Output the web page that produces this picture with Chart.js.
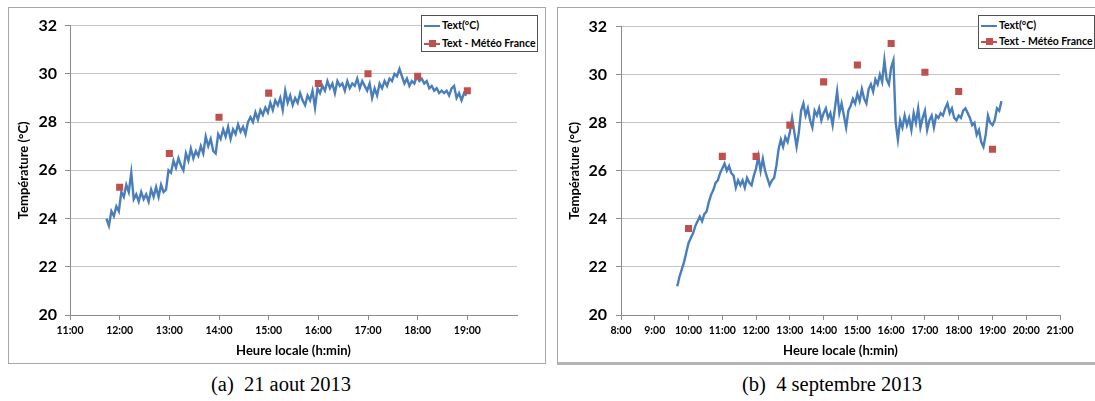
<!DOCTYPE html>
<html>
<head>
<meta charset="utf-8">
<script src="https://cdn.jsdelivr.net/npm/chart.js@4.4.0/dist/chart.umd.min.js"></script>
<style>
  html, body { margin:0; padding:0; background:#fff; }
  body { width:1095px; height:401px; position:relative; overflow:hidden; font-family: Lato, "Open Sans", sans-serif; }
  .frame { position:absolute; border:1px solid #a6a6a6; box-sizing:border-box; }
  canvas { position:absolute; }
  .legend { position:absolute; border:1px solid #505050; background:#fff; box-sizing:border-box; font: bold 10.5px Lato, sans-serif; color:#000; }
  .row { position:absolute; left:2px; height:12px; line-height:12px; white-space:nowrap; }
  .sw { position:absolute; left:0; top:6px; width:16px; height:2px; }
  .sq { position:absolute; left:5px; top:3px; width:7px; height:7px; background:#C0504D; }
  .lbl { position:absolute; left:18px; top:0; }
  .cap { position:absolute; top:373px; font: 20.5px "Liberation Serif", "DejaVu Serif", serif; color:#000; white-space:pre; transform:translateX(-50%); }
</style>
</head>
<body>
<div class="frame" style="left:8px; top:7px; width:538px; height:357px;"></div>
<div class="frame" style="left:557px; top:7px; width:545px; height:358px; border-bottom:3px solid #b4b4b4;"></div>
<canvas id="c1" width="537" height="354" style="left:9px; top:8px;"></canvas>
<canvas id="c2" width="537" height="354" style="left:558px; top:8px;"></canvas>

<div class="legend" style="left:421px; top:15px; width:117px; height:37px;">
  <div class="row" style="top:3px;"><div class="sw" style="background:#4a7ebb"></div><span class="lbl">Text(°C)</span></div>
  <div class="row" style="top:21px;"><div class="sw" style="background:#C0504D"></div><div class="sq"></div><span class="lbl">Text - Météo France</span></div>
</div>
<div class="legend" style="left:978px; top:15px; width:117px; height:34px;">
  <div class="row" style="top:3px;"><div class="sw" style="background:#4a7ebb"></div><span class="lbl">Text(°C)</span></div>
  <div class="row" style="top:19px;"><div class="sw" style="background:#C0504D"></div><div class="sq"></div><span class="lbl">Text - Météo France</span></div>
</div>

<div class="cap" style="left:281px;">(a)  21 aout 2013</div>
<div class="cap" style="left:832px;">(b)  4 septembre 2013</div>

<script>
// ---- Data: 21 aout 2013 ----
const aoutSampleStart = "11:44";   // first sample of the sensor record
const aoutSampleStepMin = 3;       // sampling interval (minutes)
const aoutText = [
  24.0,23.7,24.3,24.1,24.5,24.3,25.1,24.9,25.4,25.1,
  25.9,24.8,25.0,24.7,25.1,24.8,25.0,24.7,25.2,24.9,
  25.3,24.9,25.4,25.1,25.2,26.0,25.9,26.4,26.1,26.5,
  26.2,26.0,26.7,26.4,26.9,26.5,26.8,26.6,27.0,26.7,
  27.4,27.0,27.3,26.8,26.7,27.5,27.3,27.7,27.4,27.8,
  27.3,27.7,27.5,27.9,27.6,27.8,27.5,28.0,28.2,28.0,
  28.4,28.1,28.5,28.3,28.6,28.4,28.8,28.5,28.9,28.7,
  29.0,28.5,29.3,28.8,29.1,28.7,29.0,28.8,29.2,28.9,
  28.7,29.1,28.9,29.3,28.6,29.4,29.2,29.5,29.3,29.7,
  29.4,29.6,29.2,29.7,29.5,29.6,29.3,29.7,29.4,29.6,
  29.5,29.8,29.4,29.7,29.5,29.3,29.6,29.0,29.4,29.1,
  29.6,29.4,29.7,29.5,29.8,29.7,30.0,29.9,30.2,29.9,
  29.6,29.8,29.5,29.7,29.6,29.9,29.7,29.8,29.6,29.7,
  29.4,29.5,29.3,29.4,29.2,29.3,29.2,29.3,29.1,29.4,
  29.5,29.0,29.2,28.9,29.2,29.1
];
const aoutMeteoHours = ["12:00","13:00","14:00","15:00","16:00","17:00","18:00","19:00"];
const aoutMeteo = [25.3,26.7,28.2,29.2,29.6,30.0,29.9,29.3];
const aoutAxisHours = ["11:00","20:00"];
const aoutTickLabels = ["11:00","12:00","13:00","14:00","15:00","16:00","17:00","18:00","19:00"];

// ---- Data: 4 septembre 2013 ----
const septSampleStart = "9:40";
const septSampleStepMin = 4;
const septText = [
  21.2,21.6,21.9,22.2,22.6,23.0,23.2,23.4,23.7,23.9,
  24.1,23.9,24.2,24.3,24.7,25.0,25.2,25.5,25.6,25.9,
  26.1,26.3,26.0,26.2,25.9,25.8,25.3,25.6,25.4,25.6,
  25.3,25.7,25.5,25.4,25.8,26.1,26.6,26.0,26.5,26.0,
  25.7,25.4,25.6,25.7,26.2,26.9,27.3,27.0,27.4,27.2,
  27.6,28.2,27.6,27.0,27.6,28.5,28.8,28.3,28.6,28.1,
  27.8,28.5,28.3,28.6,28.1,28.4,28.6,28.2,28.4,27.9,
  28.6,29.3,28.4,28.8,28.3,27.8,28.5,28.7,29.0,28.8,
  29.2,28.9,29.4,29.0,28.8,29.4,29.6,29.3,29.8,29.6,
  30.0,29.7,30.6,29.8,29.6,30.3,30.6,28.0,27.3,28.1,
  27.8,28.3,27.9,28.2,27.7,28.4,28.0,28.6,27.8,28.2,
  28.5,27.7,28.1,28.3,27.8,28.3,28.2,28.4,28.3,28.6,
  28.8,28.4,28.6,28.2,28.1,28.3,28.2,28.5,28.6,28.4,
  28.2,27.9,28.0,27.5,27.7,27.2,27.0,27.5,28.3,28.0,
  27.9,28.1,28.6,28.5,28.9
];
const septMeteoHours = ["10:00","11:00","12:00","13:00","14:00","15:00","16:00","17:00","18:00","19:00"];
const septMeteo = [23.6,26.6,26.6,27.9,29.7,30.4,31.3,30.1,29.3,26.9];
const septAxisHours = ["8:00","21:00"];
const septTickLabels = ["8:00","9:00","10:00","11:00","12:00","13:00","14:00","15:00","16:00","17:00","18:00","19:00","20:00","21:00"];

const yMin = 20, yMax = 32, yStep = 2;
const xTitle = "Heure locale (h:min)";
const yTitle = "Température (°C)";
const seriesNames = ["Text(°C)", "Text - Météo France"];

// ---- helpers ----
const toMin = s => { const [h, m] = s.split(":").map(Number); return h * 60 + m; };
const FONT = "Lato, 'Open Sans', sans-serif";

function makeChart(id, start, step, values, mHours, mVals, axisHours, tickLabels, opts) {
  const s0 = toMin(start);
  const line = values.map((y, i) => ({ x: s0 + i * step, y }));
  const pts = mHours.map((h, i) => ({ x: toMin(h), y: mVals[i] }));
  const tickVals = tickLabels.map(toMin);
  return new Chart(document.getElementById(id), {
    type: "scatter",
    data: {
      datasets: [
        { label: seriesNames[0], data: line, showLine: true, borderColor: "#4a7ebb", backgroundColor: "#4a7ebb",
          borderWidth: 2.4, pointRadius: 0, tension: 0, order: 2 },
        { label: seriesNames[1], data: pts, showLine: false, pointStyle: "rect", pointRadius: 5,
          backgroundColor: "#C0504D", borderColor: "#C0504D", borderWidth: 0, order: 1 }
      ]
    },
    options: {
      responsive: false, animation: false, devicePixelRatio: 1,
      layout: { padding: { left: 0, top: 12, right: opts.padRight, bottom: 0 } },
      plugins: { legend: { display: false }, tooltip: { enabled: false } },
      scales: {
        x: {
          type: "linear",
          min: toMin(axisHours[0]), max: toMin(axisHours[1]),
          afterBuildTicks: sc => { sc.ticks = tickVals.map(v => ({ value: v })); },
          afterFit: sc => { sc.height = 47; },
          ticks: { autoSkip: false, maxRotation: 0, padding: 4, color: "#000",
                   font: { family: FONT, size: 10.5, weight: "bold" },
                   callback: (v, i) => tickLabels[i] },
          grid: { drawOnChartArea: false, drawTicks: true, tickLength: 5, tickColor: "#8c8c8c" },
          border: { display: true, color: "#8c8c8c", width: 1 },
          title: { display: true, text: xTitle, color: "#000", padding: { top: 0, bottom: 3 },
                   font: { family: FONT, size: 13, weight: "bold" } }
        },
        y: {
          min: yMin, max: yMax,
          afterFit: sc => { sc.width = opts.yWidth; },
          ticks: { stepSize: yStep, padding: opts.yPad, color: "#000",
                   font: { family: FONT, size: 16, weight: "bold" } },
          grid: { color: "#c4c4c4", lineWidth: 1, drawTicks: true, tickLength: 5, tickColor: "#8c8c8c" },
          border: { display: true, color: "#8c8c8c", width: 1 },
          title: { display: true, text: yTitle, color: "#000", padding: { top: opts.yTitlePad, bottom: 0 },
                   font: { family: FONT, size: 13, weight: "bold" } }
        }
      }
    }
  });
}

makeChart("c1", aoutSampleStart, aoutSampleStepMin, aoutText, aoutMeteoHours, aoutMeteo, aoutAxisHours, aoutTickLabels,
  { padRight: 29, yWidth: 61, yPad: 8, yTitlePad: 7, maxTrim: 0 });
makeChart("c2", septSampleStart, septSampleStepMin, septText, septMeteoHours, septMeteo, septAxisHours, septTickLabels,
  { padRight: 35, yWidth: 63, yPad: 9, yTitlePad: 9, maxTrim: 0 });
</script>
</body>
</html>
